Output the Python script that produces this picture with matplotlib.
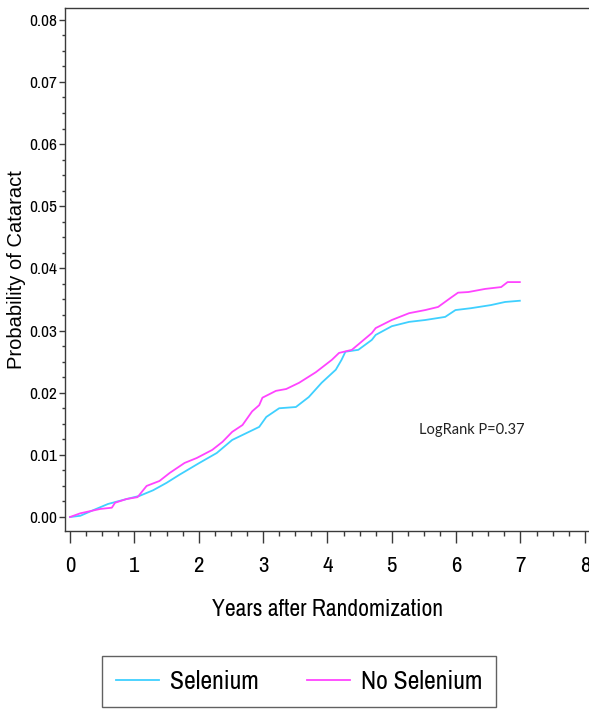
import matplotlib.pyplot as plt
from matplotlib.ticker import MultipleLocator, FormatStrFormatter
from matplotlib import font_manager

# Kaplan-Meier style cumulative probability
sel_years = [0.00, 0.16, 0.36, 0.59, 0.88, 1.08, 1.29, 1.50, 1.70, 2.01, 2.28,
             2.52, 2.74, 2.94, 3.05, 3.25, 3.51, 3.71, 3.91, 4.13, 4.22, 4.28,
             4.48, 4.69, 4.75, 5.00, 5.27, 5.52, 5.83, 5.99, 6.23, 6.54, 6.76,
             6.99]
sel_prob = [0.0, 0.0002, 0.0011, 0.0021, 0.0029, 0.0034, 0.0043, 0.0055,
            0.0068, 0.0087, 0.0103, 0.0124, 0.0135, 0.0145, 0.0161, 0.0175,
            0.0177, 0.0193, 0.0216, 0.0237, 0.0253, 0.0266, 0.0269, 0.0285,
            0.0293, 0.0307, 0.0314, 0.0317, 0.0322, 0.0333, 0.0336, 0.0341,
            0.0346, 0.0348]

nosel_years = [0.00, 0.16, 0.47, 0.65, 0.70, 0.88, 1.05, 1.19, 1.39, 1.55,
               1.78, 1.97, 2.21, 2.37, 2.52, 2.68, 2.83, 2.94, 2.99, 3.20,
               3.36, 3.56, 3.82, 4.07, 4.18, 4.38, 4.69, 4.75, 5.00, 5.27,
               5.52, 5.72, 5.92, 6.03, 6.19, 6.45, 6.70, 6.80, 6.99]
nosel_prob = [0.0, 0.0006, 0.0013, 0.0015, 0.0023, 0.0029, 0.0032, 0.0050,
              0.0058, 0.0071, 0.0087, 0.0095, 0.0108, 0.0121, 0.0137, 0.0148,
              0.0170, 0.0180, 0.0192, 0.0203, 0.0206, 0.0216, 0.0233, 0.0253,
              0.0264, 0.0269, 0.0296, 0.0304, 0.0317, 0.0328, 0.0333, 0.0338,
              0.0353, 0.0361, 0.0362, 0.0367, 0.0370, 0.0378, 0.0378]

# regular narrow face for the Arial Narrow look of the original
narrow_file = None
for f in font_manager.fontManager.ttflist:
    fname = f.fname.lower()
    if any(k in fname for k in ("bold", "italic", "oblique")):
        continue
    if "narrow" in fname:
        narrow_file = f.fname
        break
    if "condensed" in fname and narrow_file is None:
        narrow_file = f.fname

plt.rcParams["font.family"] = ["Liberation Sans", "DejaVu Sans"]


def narrow(size):
    if narrow_file is not None:
        return font_manager.FontProperties(fname=narrow_file, size=size)
    return font_manager.FontProperties(family="Liberation Sans", size=size * 0.82)


fig = plt.figure(figsize=(5.89, 7.12), dpi=100)
ax = fig.add_axes([65 / 589, 1 - 530.7 / 712, 526 / 589, 522.7 / 712])

ax.plot(sel_years, sel_prob, color="#3fd0ff", lw=1.3, label="Selenium")
ax.plot(nosel_years, nosel_prob, color="#ff44ff", lw=1.3, label="No Selenium")

ax.set_xlim(-0.078, 8.096)
ax.set_ylim(-0.0022, 0.0819)

ax.xaxis.set_major_locator(MultipleLocator(1))
ax.xaxis.set_minor_locator(MultipleLocator(0.25))
ax.yaxis.set_major_locator(MultipleLocator(0.01))
ax.yaxis.set_minor_locator(MultipleLocator(0.0025))
ax.yaxis.set_major_formatter(FormatStrFormatter("%.2f"))

for side in ["left", "top", "bottom"]:
    ax.spines[side].set_color("#3a3a3a")
    ax.spines[side].set_linewidth(1.0)
ax.spines["right"].set_visible(False)

ax.tick_params(axis="x", which="major", direction="out", length=8.6,
               width=1, color="#3a3a3a", pad=9.5)
ax.tick_params(axis="x", which="minor", direction="out", length=3.6,
               width=1, color="#3a3a3a")
ax.tick_params(axis="y", which="major", direction="out", length=4,
               width=1, color="#3a3a3a", pad=1.5)
ax.tick_params(axis="y", which="minor", direction="out", length=2.3,
               width=1, color="#3a3a3a")

for lab in ax.get_xticklabels():
    lab.set_fontproperties(narrow(16.5))
for lab in ax.get_yticklabels():
    lab.set_fontproperties(narrow(12.5))

ax.set_xlabel("Years after Randomization", fontproperties=narrow(17),
              va="top")
ax.xaxis.set_label_coords((327.4 - 65) / 526, -(599 - 530.7) / 522.7)
ax.set_ylabel("Probability of Cataract", fontsize=14.5)
ax.yaxis.set_label_coords((26 - 65) / 526, 0.5)

ax.text(5.42, 0.014, "LogRank P=0.37", fontsize=10.5,
        family=["Lato", "DejaVu Sans"], va="center", ha="left",
        color="#222222")

leg = fig.legend(loc="center", bbox_to_anchor=(299 / 589, 1 - 681.5 / 712),
                 ncol=2, frameon=True, fancybox=False, edgecolor="#3a3a3a",
                 prop=narrow(18.5), handlelength=1.68,
                 columnspacing=1.9, handletextpad=0.4, borderpad=0.55,
                 borderaxespad=0)
leg.get_frame().set_linewidth(1.0)

fig.savefig("out.png", dpi=100, facecolor="white")
